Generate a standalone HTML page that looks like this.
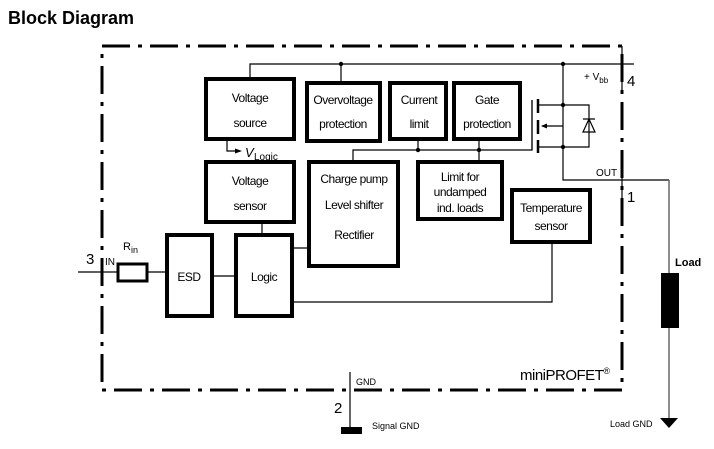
<!DOCTYPE html>
<html><head><meta charset="utf-8"><style>
html,body{margin:0;padding:0;background:#fff;width:714px;height:449px;overflow:hidden}
svg{display:block;font-family:"Liberation Sans",Arial,sans-serif}
</style></head><body>
<svg width="714" height="449" viewBox="0 0 714 449" xmlns="http://www.w3.org/2000/svg">
<text x="8" y="24" font-size="18" font-weight="bold">Block Diagram</text>
<rect x="102" y="46" width="520" height="344" fill="none" stroke="#000" stroke-width="3" stroke-dasharray="28 8 4 8"/>
<g fill="none" stroke="#000" stroke-width="4">
<rect x="206" y="79" width="88" height="60"/>
<rect x="307" y="83" width="73" height="58"/>
<rect x="390" y="83" width="56" height="56"/>
<rect x="454" y="83" width="66" height="56"/>
<rect x="206" y="162" width="88" height="60"/>
<rect x="309" y="162" width="89" height="104"/>
<rect x="418" y="162" width="84" height="57"/>
<rect x="512" y="190" width="78" height="52"/>
<rect x="167" y="235" width="45" height="81"/>
<rect x="236" y="235" width="56" height="81"/>
<rect x="118" y="264" width="29" height="17" stroke-width="3"/>
</g>
<g fill="none" stroke="#000" stroke-width="1.2">
<path d="M250 79V64H634"/>
<path d="M341 64V83"/>
<path d="M227 139V151H240"/>
<path d="M353 162V150H532V100"/>
<path d="M418 139V150M479 139V162"/>
<path d="M262 222V235M292 248H309M212 276H236M147 272H167M78 272H117"/>
<path d="M292 302H552V242"/>
<path d="M563 64V180H669"/>
<path d="M538 105H563M538 147H589V105H563M563 126H542"/>
<path d="M595 119H583M589 119L583 132H595Z"/>
<path d="M350 372V432"/>
<path d="M622 46V90M622 165V200"/>
</g>
<g stroke="#000" stroke-width="2.5">
<path d="M538 99V113M538 120V134M538 140V153"/>
<path d="M532 100V150" stroke-width="1.2"/>
</g>
<path d="M242 151L235 148.5V153.5Z M541 126L547 123.5V128.5Z"/>
<g fill="#000">
<circle cx="341" cy="64" r="2.2"/><circle cx="563" cy="64" r="2.2"/>
<circle cx="563" cy="105" r="2.2"/><circle cx="563" cy="147" r="2.2"/>
<circle cx="418" cy="150" r="2.2"/><circle cx="479" cy="150" r="2.2"/>
</g>
<rect x="341" y="427" width="21" height="7"/>
<path d="M669 180V418" stroke="#666" stroke-width="1.5"/>
<rect x="661" y="273" width="18" height="55"/>
<path d="M660 418H678L669 428Z"/>
<g font-size="12" text-anchor="middle" letter-spacing="-0.5">
<text x="250" y="102">Voltage</text><text x="250" y="127">source</text>
<text x="343" y="104">Overvoltage</text><text x="343" y="128">protection</text>
<text x="419" y="104">Current</text><text x="419" y="128">limit</text>
<text x="487" y="104">Gate</text><text x="487" y="128">protection</text>
<text x="250" y="185">Voltage</text><text x="250" y="210">sensor</text>
<text x="354" y="183">Charge pump</text><text x="354" y="209">Level shifter</text><text x="354" y="239">Rectifier</text>
<text x="460" y="181">Limit for</text><text x="460" y="196">undamped</text><text x="460" y="212">ind. loads</text>
<text x="551" y="212">Temperature</text><text x="551" y="230">sensor</text>
<text x="189" y="281">ESD</text><text x="264" y="281">Logic</text>
</g>
<text x="245" y="157" font-size="13" font-style="italic">V</text>
<text x="254" y="160" font-size="10">Logic</text>
<text x="86" y="264" font-size="15">3</text>
<text x="105" y="265" font-size="10">IN</text>
<text x="123" y="250" font-size="11">R<tspan font-size="9" dy="3">in</tspan></text>
<text x="584" y="80" font-size="10">+ V<tspan font-size="8" dy="3">bb</tspan></text>
<text x="627" y="86" font-size="15">4</text>
<text x="596" y="176" font-size="10">OUT</text>
<text x="627" y="202" font-size="15">1</text>
<text x="675" y="266" font-size="11" font-weight="bold">Load</text>
<text x="520" y="380" font-size="15" letter-spacing="-0.5">miniPROFET<tspan font-size="9" dy="-6">®</tspan></text>
<text x="356" y="385" font-size="9">GND</text>
<text x="334" y="413" font-size="15">2</text>
<text x="372" y="429" font-size="9">Signal GND</text>
<text x="610" y="427" font-size="9">Load GND</text>
</svg>
</body></html>
